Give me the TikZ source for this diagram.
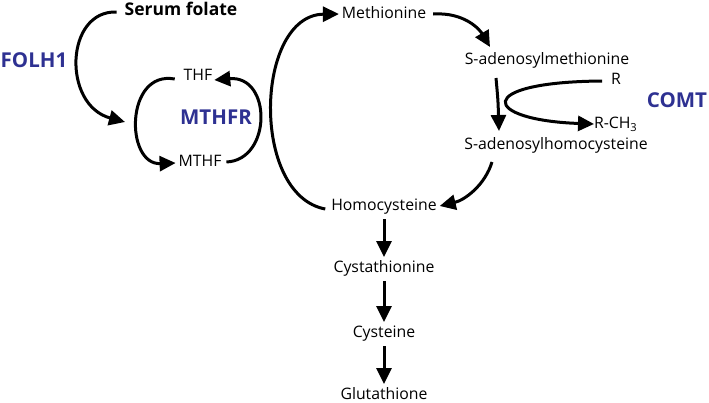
\documentclass[tikz,border=0pt]{standalone}
\usepackage{fontspec}
\setmainfont{Open Sans}
\usetikzlibrary{arrows.meta}
\definecolor{dblue}{RGB}{46,49,146}
\tikzset{
  lbl/.style={inner sep=0pt, outer sep=0pt, font=\fontsize{15.8}{18}\selectfont, text height=11pt, text depth=3pt},
  blbl/.style={inner sep=0pt, outer sep=0pt, font=\fontsize{17.5}{20}\selectfont\bfseries, text height=13pt, text depth=3pt},
  enz/.style={inner sep=0pt, outer sep=0pt, font=\fontsize{20.5}{24}\selectfont\bfseries, text=dblue, text height=14pt, text depth=0pt},
  arr/.style={line width=3pt, -{Triangle[length=16pt,width=15pt]}},
}
\begin{document}
\begin{tikzpicture}[x=1pt,y=-1pt]
\useasboundingbox (0,0) rectangle (709,402);
% nodes
\node[blbl] (serum) at (181,10) {Serum folate};
\node[enz] (folh) at (34,60) {FOLH1};
\node[lbl] (thf) at (198,76) {THF};
\node[enz] (mthfr) at (216,117) {MTHFR};
\node[lbl] (mthf) at (200,162) {MTHF};
\node[lbl] (met) at (384,14) {Methionine};
\node[lbl] (sam) at (547,60) {S-adenosylmethionine};
\node[lbl] (r) at (616,80) {R};
\node[enz] (comt) at (677,100) {COMT};
\node[lbl,anchor=west] (rch) at (594,124) {R-CH\textsubscript{3}};
\node[lbl] (sah) at (556,145) {S-adenosylhomocysteine};
\node[lbl] (hcy) at (384,206) {Homocysteine};
\node[lbl] (cysta) at (384,268) {Cystathionine};
\node[lbl] (cys) at (384,333) {Cysteine};
\node[lbl] (glu) at (384,395) {Glutathione};
% connectors
\draw[arr] ([xshift=-8pt,yshift=-2pt]serum.west) .. controls (65,10) and (62,105) .. (125,122);
\draw[arr] ([xshift=-9pt,yshift=-3pt]thf.west) .. controls (125,70) and (125,165) .. ([xshift=-3pt,yshift=-1pt]mthf.west);
\draw[arr] ([xshift=5pt]mthf.east) .. controls (272,160) and (272,75) .. ([xshift=2pt,yshift=-4pt]thf.east);
\draw[arr] ([xshift=-6pt,yshift=-3pt]hcy.west) .. controls (250,195) and (255,15) .. ([xshift=-3pt]met.west);
\draw[arr] ([xshift=7pt]met.east) .. controls (465,12) and (480,30) .. (490,47);
\draw[arr] (496,78) .. controls (498,100) .. (499,131);
\draw[arr] ([xshift=-9pt,yshift=-1pt]r.west) .. controls (472,82) and (482,120) .. (rch.west);
\draw[arr] (492,162) .. controls (485,185) and (465,200) .. ([xshift=3pt]hcy.east);
\draw[arr] ([yshift=-6pt]hcy.south) -- ([yshift=4pt]cysta.north);
\draw[arr] ([yshift=-6pt]cysta.south) -- ([yshift=4pt]cys.north);
\draw[arr] ([yshift=-6pt]cys.south) -- ([yshift=4pt]glu.north);
\end{tikzpicture}
\end{document}
